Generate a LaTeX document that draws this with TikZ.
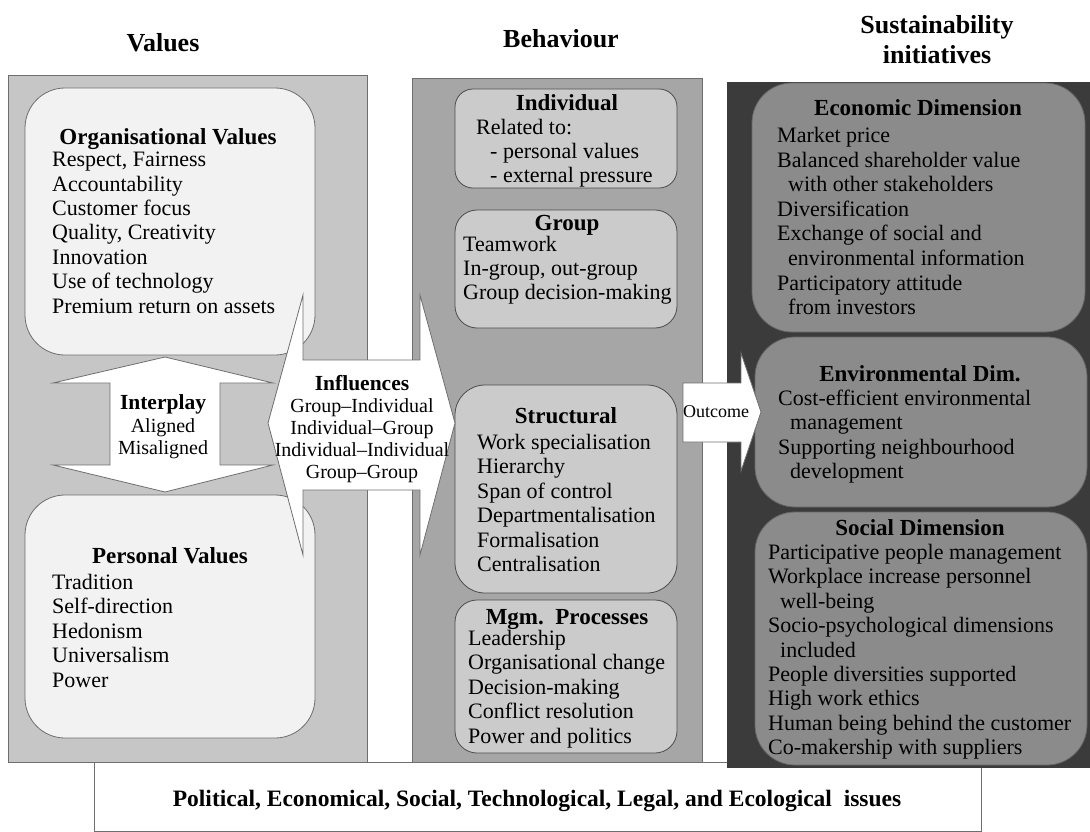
\documentclass[tikz,border=0pt]{standalone}
\usepackage{fontspec}
\setmainfont{Liberation Serif}
\usepackage{xcolor}
\definecolor{valpanel}{HTML}{C6C6C6}
\definecolor{valbox}{HTML}{F2F2F2}
\definecolor{behpanel}{HTML}{A6A6A6}
\definecolor{behbox}{HTML}{CBCBCB}
\definecolor{suspanel}{HTML}{3B3B3B}
\definecolor{susbox}{HTML}{8B8B8B}
\definecolor{edge}{HTML}{6E6E6E}

\begin{document}
\begin{tikzpicture}[x=1pt,y=-1pt,
  head/.style={font=\fontsize{26}{30}\selectfont\bfseries,align=center,inner sep=0},
  boxtitle/.style={font=\fontsize{23}{26}\selectfont\bfseries,anchor=base,inner sep=0},
  itemlist/.style={font=\fontsize{22}{24.4}\selectfont,align=left,anchor=north west,inner sep=0},
  arrowtitle/.style={font=\fontsize{21.5}{24}\selectfont\bfseries,anchor=base,inner sep=0},
  arrowlist/.style={font=\fontsize{20}{22}\selectfont,align=center,anchor=north,inner sep=0},
  panel/.style={draw=edge,line width=0.8pt},
  valuebox/.style={draw=edge,line width=0.8pt,fill=valbox,rounded corners=40pt},
  behbox/.style={draw=black!70,line width=0.8pt,fill=behbox,rounded corners=22pt},
  susbox/.style={draw=black!60,line width=0.8pt,fill=susbox,rounded corners=40pt},
  blockarrow/.style={draw=edge,line width=0.8pt,fill=white}]

\useasboundingbox (0,0) rectangle (1090,832);

% column headers
\node[head] (hval) at (163,43) {Values};
\node[head] (hbeh) at (561,39) {Behaviour};
\node[head] (hsus) at (937,40) {Sustainability\\initiatives};

% environment
\draw[draw=edge,line width=0.8pt,fill=white] (94,762) rectangle (981,831);

% panels
\draw[panel,fill=valpanel] (8,75) rectangle (367,762);
\draw[panel,fill=behpanel] (412,78) rectangle (702,762);
\draw[panel,fill=suspanel,draw=suspanel] (727,82) rectangle (1090,767);

% values
\draw[valuebox] (25,88) rectangle (315,355);
\draw[valuebox] (25,495) rectangle (315,738);

% behaviour
\draw[behbox,rounded corners=18pt] (455,89) rectangle (677,188);
\draw[behbox] (455,210) rectangle (677,328);
\draw[behbox,rounded corners=30pt] (455,385) rectangle (677,593);
\draw[behbox] (455,600) rectangle (677,753);

% sustainability initiatives
\draw[susbox] (752,83) rectangle (1085,332);
\draw[susbox] (755,337) rectangle (1087,507);
\draw[susbox] (755,512) rectangle (1087,765);

% interplay (up-down arrow)
\draw[blockarrow] (165,357) -- (273,383) -- (220,383) -- (220,465) -- (273,465)
  -- (165,492) -- (53,465) -- (110,465) -- (110,383) -- (53,383) -- cycle;

% influences (left-right arrow)
\draw[blockarrow] (268,423) -- (303,295) -- (303,360) -- (420,360) -- (420,295)
  -- (455,423) -- (420,555) -- (420,490) -- (303,490) -- (303,555) -- cycle;

% outcome
\draw[blockarrow] (683,383) -- (741,383) -- (741,353) -- (761,412) -- (741,471)
  -- (741,442) -- (683,442) -- cycle;

% texts
\node[boxtitle] (orgt) at (168,145) {Organisational Values};
\node[itemlist] (orgl) at (52,152) {Respect, Fairness\\Accountability\\Customer focus\\Quality, Creativity\\Innovation\\Use of technology\\Premium return on assets};
\node[boxtitle] (pert) at (170,563) {Personal Values};
\node[itemlist] (perl) at (52,574) {Tradition\\Self-direction\\Hedonism\\Universalism\\Power};

\node[arrowtitle] (intt) at (163,409) {Interplay};
\node[arrowlist] (intl) at (163,418) {Aligned\\Misaligned};
\node[arrowtitle] (inft) at (362,390) {Influences};
\node[arrowlist] (infl) at (362,398) {Group--Individual\\Individual--Group\\Individual--Individual\\Group--Group};

\node[boxtitle] (indt) at (567,111) {Individual};
\node[itemlist,font=\fontsize{22}{24}\selectfont] (indl) at (476,119) {Related to:\\\hspace*{14pt}- personal values\\\hspace*{14pt}- external pressure};
\node[boxtitle] (grpt) at (567,230) {Group};
\node[itemlist,font=\fontsize{22}{24}\selectfont] (grpl) at (463,236) {Teamwork\\In-group, out-group\\Group decision-making};
\node[boxtitle] (strt) at (566,423) {Structural};
\node[itemlist] (strl) at (477,434) {Work specialisation\\Hierarchy\\Span of control\\Departmentalisation\\Formalisation\\Centralisation};
\node[boxtitle] (mgmt) at (567,624) {Mgm.\ \ Processes};
\node[itemlist] (mgml) at (468,630) {Leadership\\Organisational change\\Decision-making\\Conflict resolution\\Power and politics};

\node[font=\fontsize{18}{20}\selectfont,inner sep=0] (outc) at (716,412) {Outcome};

\node[boxtitle] (ecot) at (918,116) {Economic Dimension};
\node[itemlist,font=\fontsize{22}{24.6}\selectfont] (ecol) at (777,127) {Market price\\Balanced shareholder value\\\hspace*{11pt}with other stakeholders\\Diversification\\Exchange of social and\\\hspace*{11pt}environmental information\\Participatory attitude\\\hspace*{11pt}from investors};
\node[boxtitle] (envt) at (920,381) {Environmental Dim.};
\node[itemlist,font=\fontsize{22}{24.2}\selectfont] (envl) at (778,390) {Cost-efficient environmental\\\hspace*{12pt}management\\Supporting neighbourhood\\\hspace*{12pt}development};
\node[boxtitle] (soct) at (920,535) {Social Dimension};
\node[itemlist] (socl) at (768,544) {Participative people management\\Workplace increase personnel\\\hspace*{12pt}well-being\\Socio-psychological dimensions\\\hspace*{12pt}included\\People diversities supported\\High work ethics\\Human being behind the customer\\Co-makership with suppliers};

\node[font=\fontsize{23.5}{26}\selectfont\bfseries,anchor=base,inner sep=0] (envtxt) at (537,806) {Political, Economical, Social, Technological, Legal, and Ecological\ \ issues};

\end{tikzpicture}
\end{document}
